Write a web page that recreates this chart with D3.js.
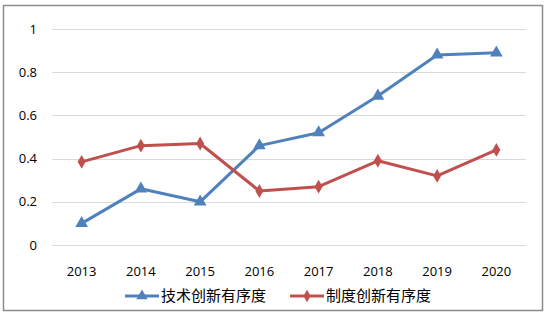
<!DOCTYPE html>
<html>
<head>
<meta charset="utf-8">
<script src="https://cdn.jsdelivr.net/npm/d3@7"></script>
<style>
  body { margin: 0; background: #fff; }
  text { font-family: "Open Sans", "Noto Sans CJK SC", sans-serif; fill: #000; }
</style>
</head>
<body>
<svg id="chart" width="547" height="315"></svg>
<script>
const years = ['2013', '2014', '2015', '2016', '2017', '2018', '2019', '2020'];
const techValues = [0.10, 0.26, 0.20, 0.46, 0.52, 0.69, 0.88, 0.89];
const instValues = [0.385, 0.46, 0.47, 0.25, 0.27, 0.39, 0.32, 0.44];
const yTicks = [0, 0.2, 0.4, 0.6, 0.8, 1];
const seriesNames = ['技术创新有序度', '制度创新有序度'];

const svg = d3.select('#chart');

// outer frame
svg.append('rect')
    .attr('x', 3.5).attr('y', 5.5)
    .attr('width', 539).attr('height', 305)
    .attr('fill', '#fff')
    .attr('stroke', '#8c8c8c')
    .attr('stroke-width', 1.5);

const plotLeft = 52, plotRight = 526, plotTop = 29, plotBottom = 245;

const x = d3.scaleBand().domain(years).range([plotLeft, plotRight]);
const y = d3.scaleLinear().domain([0, 1]).range([plotBottom, plotTop]);

// gridlines
svg.append('g')
    .selectAll('line')
    .data(yTicks)
    .enter()
    .append('line')
    .attr('x1', plotLeft).attr('x2', plotRight)
    .attr('y1', d => Math.round(y(d)) + 0.5)
    .attr('y2', d => Math.round(y(d)) + 0.5)
    .attr('stroke', '#d9d9d9')
    .attr('stroke-width', 1);

// y labels
svg.append('g')
    .selectAll('text')
    .data(yTicks)
    .enter()
    .append('text')
    .attr('x', 37)
    .attr('y', d => y(d))
    .attr('dy', '0.35em')
    .attr('text-anchor', 'end')
    .style('font-size', '13px')
    .text(d => d3.format('~g')(d));

// x labels
svg.append('g')
    .selectAll('text')
    .data(years)
    .enter()
    .append('text')
    .attr('x', d => x(d) + x.bandwidth() / 2)
    .attr('y', 271)
    .attr('dy', '0.35em')
    .attr('text-anchor', 'middle')
    .style('font-size', '13px')
    .text(d => d);

const line = d3.line()
    .x((d, i) => x(years[i]) + x.bandwidth() / 2)
    .y(d => y(d));

const series = [
    { name: seriesNames[0], values: techValues, color: '#4f81bd', symbol: d3.symbolTriangle, size: 70 },
    { name: seriesNames[1], values: instValues, color: '#c0504d', symbol: d3.symbolDiamond, size: 55 }
];

series.forEach(s => {
    svg.append('path')
        .datum(s.values)
        .attr('d', line)
        .attr('fill', 'none')
        .attr('stroke', s.color)
        .attr('stroke-width', 3)
        .attr('stroke-linejoin', 'round');

    svg.append('g')
        .selectAll('path')
        .data(s.values)
        .enter()
        .append('path')
        .attr('d', d3.symbol().type(s.symbol).size(s.size))
        .attr('transform', (d, i) => `translate(${x(years[i]) + x.bandwidth() / 2},${y(d)})`)
        .attr('fill', s.color);
});

// legend
const legendItems = [
    { x: 125, textX: 161 },
    { x: 290, textX: 326 }
];
series.forEach((s, i) => {
    const g = svg.append('g').attr('transform', `translate(${legendItems[i].x}, 296)`);
    g.append('line')
        .attr('x1', 0).attr('x2', 34)
        .attr('stroke', s.color)
        .attr('stroke-width', 3);
    g.append('path')
        .attr('d', d3.symbol().type(s.symbol).size(s.size * 0.8))
        .attr('transform', 'translate(17,0)')
        .attr('fill', s.color);
    svg.append('text')
        .attr('x', legendItems[i].textX)
        .attr('y', 296)
        .attr('dy', '0.36em')
        .style('font-family', '"Noto Sans CJK SC", sans-serif')
        .style('font-size', '15px')
        .text(s.name);
});
</script>
</body>
</html>
